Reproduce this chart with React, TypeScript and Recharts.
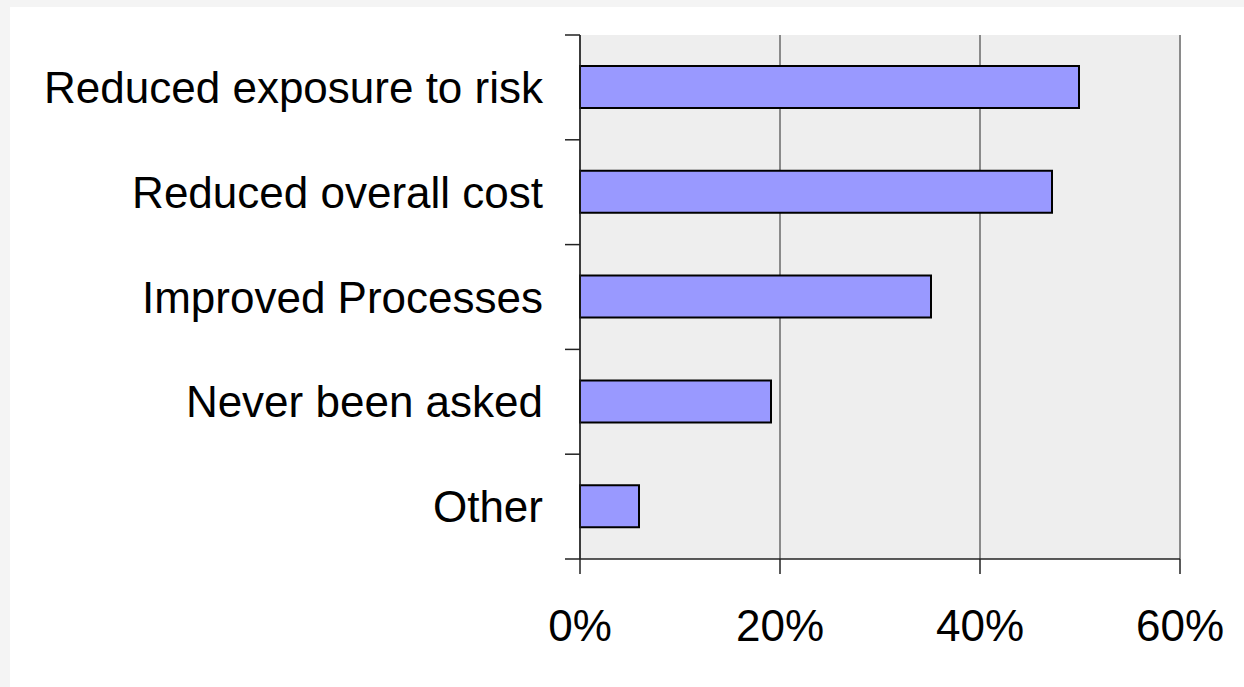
import React from "react";
import {
  BarChart,
  Bar,
  XAxis,
  YAxis,
  CartesianGrid,
} from "recharts";

const categories = [
  "Reduced exposure to risk",
  "Reduced overall cost",
  "Improved Processes",
  "Never been asked",
  "Other",
];
const shares = [49.9, 47.2, 35.1, 19.1, 5.9];
const xTicks = [0, 20, 40, 60];

const data = categories.map((name, i) => ({ name, value: shares[i] }));

const FONT = '"Liberation Sans", Arial, sans-serif';
const AXIS_COLOR = "#222";
const GRID_COLOR = "#8a8a8a";
const TICK_SIZE = 15;
const Y_TICK_MARGIN = 22;

// category labels with Excel-style tick marks on the band boundaries
function CategoryTick(props: any) {
  const { x, y, payload, index, visibleTicksCount } = props;
  const half = payload && payload.offset ? payload.offset : 52.4;
  const axisX = x + Y_TICK_MARGIN + TICK_SIZE;
  const last = index === visibleTicksCount - 1;
  return (
    <g>
      <line x1={axisX - TICK_SIZE} x2={axisX} y1={y - half} y2={y - half} stroke={AXIS_COLOR} strokeWidth={1.5} />
      {last && (
        <line x1={axisX - TICK_SIZE} x2={axisX} y1={y + half} y2={y + half} stroke={AXIS_COLOR} strokeWidth={1.5} />
      )}
      <text
        x={x}
        y={y}
        textAnchor="end"
        dominantBaseline="central"
        fontFamily={FONT}
        fontSize={44}
        fill="#000"
      >
        {payload.value}
      </text>
    </g>
  );
}

export default function App() {
  return (
    <div
      style={{
        position: "fixed",
        left: 0,
        top: 0,
        width: 1244,
        height: 687,
        background: "#f4f4f4",
        overflow: "hidden",
      }}
    >
      <div
        style={{
          position: "absolute",
          left: 10,
          top: 7,
          right: 0,
          bottom: 0,
          background: "#ffffff",
        }}
      />
      <div style={{ position: "absolute", left: 0, top: 0 }}>
        <BarChart
          width={1244}
          height={687}
          data={data}
          layout="vertical"
          margin={{ top: 35, right: 64, bottom: 0, left: 0 }}
        >
          <CartesianGrid
            horizontal={false}
            fill="#eeeeee"
            stroke={GRID_COLOR}
            strokeWidth={2}
          />
          <XAxis
            type="number"
            domain={[0, 60]}
            ticks={xTicks}
            interval={0}
            tickFormatter={(v) => `${v}%`}
            height={128}
            tickSize={TICK_SIZE}
            tickMargin={36}
            axisLine={{ stroke: AXIS_COLOR, strokeWidth: 1.5 }}
            tickLine={{ stroke: AXIS_COLOR, strokeWidth: 1.5 }}
            tick={{ fill: "#000", fontSize: 44, fontFamily: FONT }}
          />
          <XAxis
            xAxisId="top"
            orientation="top"
            type="number"
            domain={[0, 60]}
            height={0}
            tick={false}
            tickLine={false}
            axisLine={{ stroke: GRID_COLOR, strokeWidth: 2 }}
          />
          <YAxis
            type="category"
            dataKey="name"
            width={580}
            tickSize={TICK_SIZE}
            tickMargin={Y_TICK_MARGIN}
            interval={0}
            axisLine={{ stroke: AXIS_COLOR, strokeWidth: 1.5 }}
            tickLine={{ stroke: "none" }}
            tick={<CategoryTick />}
          />
          <Bar
            dataKey="value"
            fill="#9999ff"
            stroke="#000"
            strokeWidth={2}
            barSize={42}
            isAnimationActive={false}
          />
        </BarChart>
      </div>
    </div>
  );
}
